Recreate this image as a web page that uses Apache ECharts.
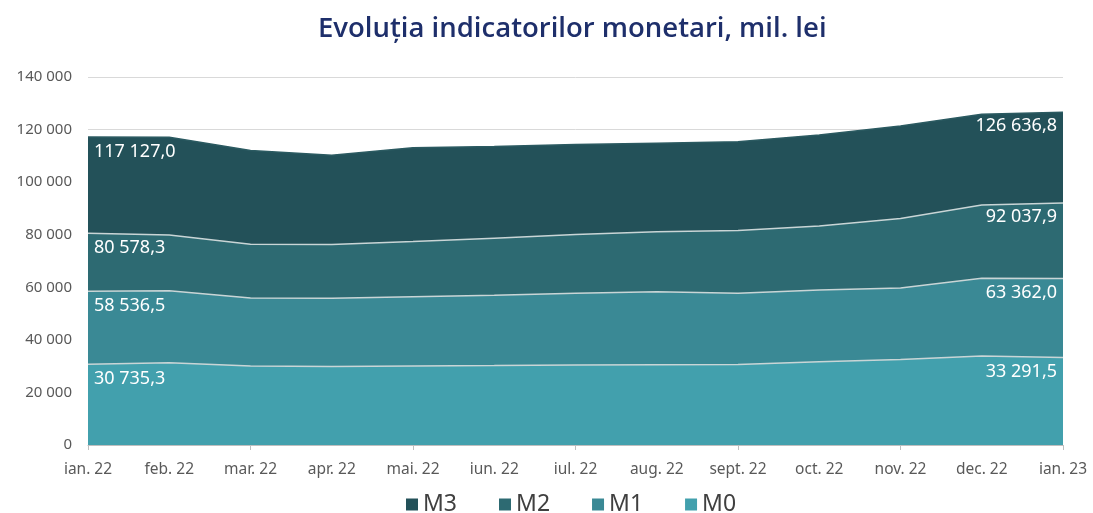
<!DOCTYPE html>
<html>
<head>
<meta charset="utf-8">
<script src="https://cdn.jsdelivr.net/npm/echarts@6/dist/echarts.min.js"></script>
<style>html,body{margin:0;padding:0;background:#fff}#c{width:1093px;height:513px}</style>
</head>
<body>
<div id="c"></div>
<script>
var months = ['ian. 22','feb. 22','mar. 22','apr. 22','mai. 22','iun. 22','iul. 22','aug. 22','sept. 22','oct. 22','nov. 22','dec. 22','ian. 23'];
var m3 = [117127.0, 117100, 112000, 110200, 113100, 113600, 114300, 114800, 115400, 117900, 121400, 125800, 126636.8];
var m2 = [80578.3, 79900, 76400, 76300, 77400, 78700, 80100, 81100, 81600, 83300, 86200, 91300, 92037.9];
var m1 = [58536.5, 58700, 55900, 55800, 56400, 57000, 57700, 58300, 57700, 59000, 59700, 63400, 63362.0];
var m0 = [30735.3, 31300, 30100, 29900, 30050, 30200, 30400, 30500, 30600, 31700, 32500, 33900, 33291.5];
var yTicks = [0, 20000, 40000, 60000, 80000, 100000, 120000, 140000];

function fmt(v, dec) {
  var s = v.toFixed(dec);
  var parts = s.split('.');
  var ip = parts[0].replace(/\B(?=(\d{3})+(?!\d))/g, ' ');
  return parts.length > 1 ? ip + ',' + parts[1] : ip;
}

function buildData(arr) {
  return arr.map(function (v, i) {
    var item = { value: v };
    if (i === 0) {
      item.label = { show: true, position: 'right', distance: 6, offset: [0, 15] };
    } else if (i === arr.length - 1) {
      item.label = { show: true, position: 'left', distance: 4, offset: [-2, 14] };
    }
    return item;
  });
}

function series(name, arr, color, lineColor) {
  return {
    name: name,
    type: 'line',
    data: buildData(arr),
    symbol: 'circle',
    symbolSize: 0,
    showSymbol: true,
    smooth: false,
    lineStyle: { color: lineColor, width: 1.5 },
    itemStyle: { color: color },
    areaStyle: { color: color, opacity: 1 },
    label: {
      show: false,
      color: '#ffffff',
      fontSize: 18,
      fontFamily: 'Noto Sans',
      formatter: function (p) { return fmt(p.value, 1); }
    },
    emphasis: { disabled: true },
    animation: false
  };
}

var chart = echarts.init(document.getElementById('c'), null, { renderer: 'canvas' });
chart.setOption({
  animation: false,
  title: {
    text: 'Evoluția indicatorilor monetari, mil. lei',
    left: 313,
    top: 10,
    textStyle: { color: '#1e2f6b', fontSize: 27.5, fontWeight: 600, fontFamily: 'Open Sans' }
  },
  legend: {
    data: ['M3', 'M2', 'M1', 'M0'],
    top: 488,
    left: 401,
    icon: 'rect',
    itemWidth: 12,
    itemHeight: 12,
    itemGap: 42,
    textStyle: { color: '#404040', fontSize: 23, fontFamily: 'Noto Sans' }
  },
  grid: { left: 88, right: 30, top: 77, bottom: 68 },
  xAxis: {
    type: 'category',
    data: months,
    boundaryGap: false,
    axisLine: { lineStyle: { color: '#bfbfbf' } },
    axisTick: { show: true, interval: 1, length: 5, lineStyle: { color: '#bfbfbf' } },
    axisLabel: { interval: 0, color: '#595959', fontSize: 15.5, fontFamily: 'Noto Sans', margin: 17 },
    splitLine: { show: false }
  },
  yAxis: {
    type: 'value',
    min: yTicks[0],
    max: yTicks[yTicks.length - 1],
    interval: 20000,
    axisLine: { show: false },
    axisTick: { show: false },
    axisLabel: { color: '#595959', fontSize: 15, fontFamily: 'Noto Sans', margin: 16,
      formatter: function (v) { return fmt(v, 0); } },
    splitLine: { lineStyle: { color: '#d9d9d9' } }
  },
  series: [
    series('M3', m3, '#235159', '#2b5a61'),
    series('M2', m2, '#2d6a72', '#c9d5d6'),
    series('M1', m1, '#3a8995', '#c9d5d6'),
    series('M0', m0, '#42a0ad', '#c9d5d6')
  ]
});
</script>
</body>
</html>
